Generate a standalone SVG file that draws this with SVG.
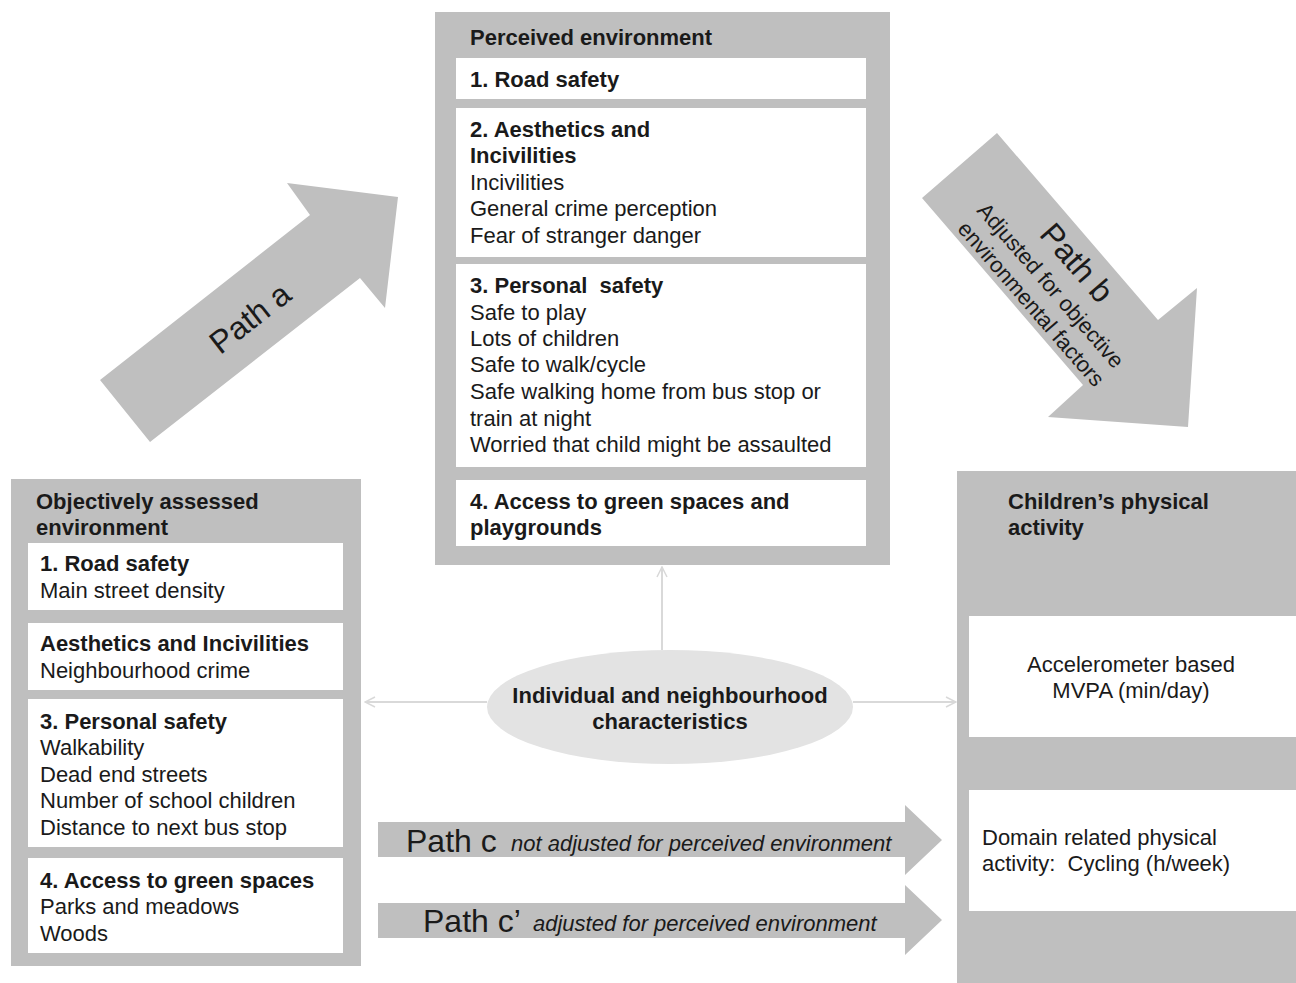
<svg xmlns="http://www.w3.org/2000/svg" width="1296" height="983" viewBox="0 0 1296 983">
<style>
.outer{fill:#bfbfbf}
.inner{fill:#ffffff}
.big{fill:#bfbfbf}
text{font-family:"Liberation Sans",Arial,sans-serif;fill:#1a1a1a}
.t{font-size:22px}
.b{font-size:22px;font-weight:bold}
.p{font-size:32px}
.i{font-size:22px;font-style:italic}
.thin{stroke:#d9d9d9;stroke-width:2;fill:none}
</style>
<defs>
<marker id="open" viewBox="0 0 12 12" refX="11" refY="6" markerWidth="12" markerHeight="12" markerUnits="userSpaceOnUse" orient="auto">
<path d="M1,1 L11,6 L1,11" fill="none" stroke="#d9d9d9" stroke-width="1.5"/>
</marker>
</defs>
<rect width="1296" height="983" fill="#ffffff"/>

<g id="connectors">
<polygon class="big" points="100,380 310,215 287,183 398,197 385,308 360,278 150,442"/>
<polygon class="big" points="922,198 997,133 1158,320 1197,288 1188,427 1048,417 1083,385"/>
<polygon class="big" points="378,822 905,822 905,805 942,840 905,875 905,857 378,857"/>
<polygon class="big" points="378,903 905,903 905,885 942,920 905,955 905,938 378,938"/>
<line class="thin" x1="662" y1="650" x2="662" y2="567" marker-end="url(#open)"/>
<line class="thin" x1="487" y1="702" x2="365" y2="702" marker-end="url(#open)"/>
<line class="thin" x1="853" y1="702" x2="956" y2="702" marker-end="url(#open)"/>
<g transform="translate(250,318) rotate(-38)"><text class="p" x="0" y="11" text-anchor="middle">Path a</text></g>
<g transform="translate(1060,280) rotate(49)">
<text class="p" x="-2" y="-13" text-anchor="middle">Path b</text>
<text class="t" x="-2" y="18" text-anchor="middle">Adjusted for objective</text>
<text class="t" x="-1" y="45" text-anchor="middle">environmental factors</text>
</g>
<text class="p" x="406" y="852">Path c</text>
<text class="i" x="511" y="851">not adjusted for perceived environment</text>
<text class="p" x="423" y="932">Path c’</text>
<text class="i" x="533" y="931">adjusted for perceived environment</text>
</g>

<g id="perceived">
<rect class="outer" x="435" y="12" width="455" height="553"/>
<text class="b" x="470" y="45">Perceived environment</text>
<rect class="inner" x="456" y="58" width="410" height="41"/>
<text class="b" x="470" y="87">1. Road safety</text>
<rect class="inner" x="456" y="108" width="410" height="149"/>
<text class="b" x="470" y="137">2. Aesthetics and</text>
<text class="b" x="470" y="163">Incivilities</text>
<text class="t" x="470" y="190">Incivilities</text>
<text class="t" x="470" y="216">General crime perception</text>
<text class="t" x="470" y="243">Fear of stranger danger</text>
<rect class="inner" x="456" y="264" width="410" height="203"/>
<text class="b" x="470" y="293">3. Personal&#160; safety</text>
<text class="t" x="470" y="320">Safe to play</text>
<text class="t" x="470" y="346">Lots of children</text>
<text class="t" x="470" y="372">Safe to walk/cycle</text>
<text class="t" x="470" y="399">Safe walking home from bus stop or</text>
<text class="t" x="470" y="426">train at night</text>
<text class="t" x="470" y="452">Worried that child might be assaulted</text>
<rect class="inner" x="456" y="480" width="410" height="66"/>
<text class="b" x="470" y="509">4. Access to green spaces and</text>
<text class="b" x="470" y="535">playgrounds</text>
</g>

<g id="objective">
<rect class="outer" x="11" y="479" width="350" height="487"/>
<text class="b" x="36" y="509">Objectively assessed</text>
<text class="b" x="36" y="535">environment</text>
<rect class="inner" x="28" y="543" width="315" height="67"/>
<text class="b" x="40" y="571">1. Road safety</text>
<text class="t" x="40" y="598">Main street density</text>
<rect class="inner" x="28" y="623" width="315" height="67"/>
<text class="b" x="40" y="651">Aesthetics and Incivilities</text>
<text class="t" x="40" y="678">Neighbourhood crime</text>
<rect class="inner" x="28" y="699" width="315" height="148"/>
<text class="b" x="40" y="729">3. Personal safety</text>
<text class="t" x="40" y="755">Walkability</text>
<text class="t" x="40" y="782">Dead end streets</text>
<text class="t" x="40" y="808">Number of school children</text>
<text class="t" x="40" y="835">Distance to next bus stop</text>
<rect class="inner" x="28" y="858" width="315" height="95"/>
<text class="b" x="40" y="888">4. Access to green spaces</text>
<text class="t" x="40" y="914">Parks and meadows</text>
<text class="t" x="40" y="941">Woods</text>
</g>

<g id="activity">
<rect class="outer" x="957" y="471" width="345" height="520"/>
<text class="b" x="1008" y="509">Children’s physical</text>
<text class="b" x="1008" y="535">activity</text>
<rect class="inner" x="969" y="616" width="330" height="121"/>
<text class="t" x="1131" y="672" text-anchor="middle">Accelerometer based</text>
<text class="t" x="1131" y="698" text-anchor="middle">MVPA (min/day)</text>
<rect class="inner" x="969" y="790" width="330" height="121"/>
<text class="t" x="982" y="845">Domain related physical</text>
<text class="t" x="982" y="871">activity:&#160; Cycling (h/week)</text>
</g>

<g id="characteristics">
<ellipse cx="670" cy="707" rx="183" ry="57" fill="#e3e3e3"/>
<text class="b" x="670" y="703" text-anchor="middle">Individual and neighbourhood</text>
<text class="b" x="670" y="729" text-anchor="middle">characteristics</text>
</g>
</svg>
